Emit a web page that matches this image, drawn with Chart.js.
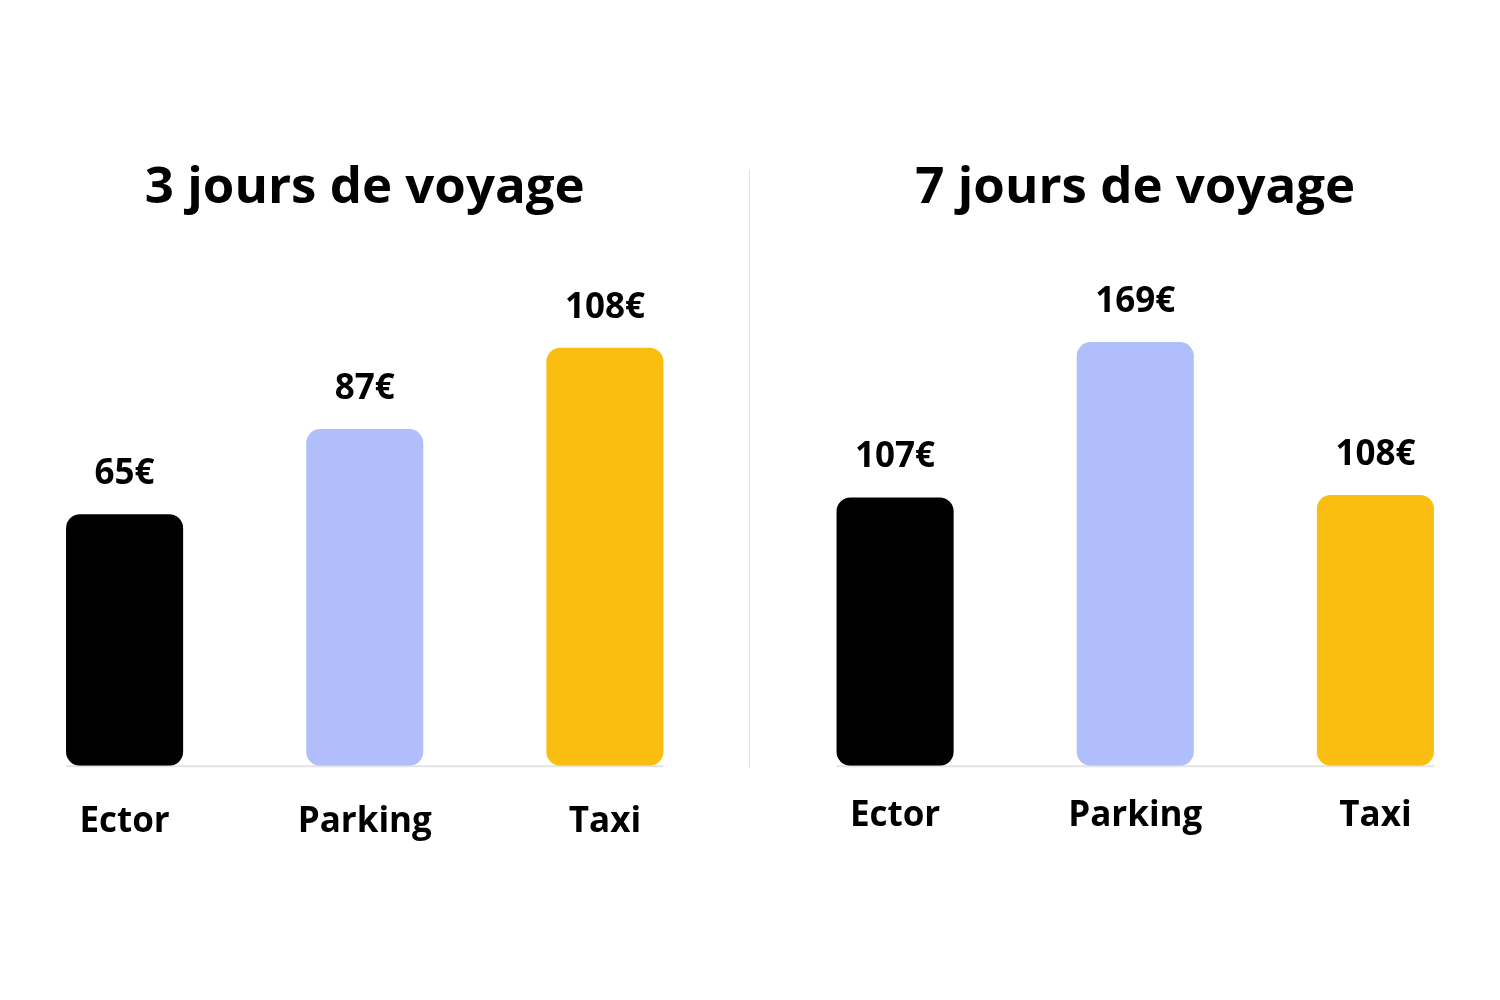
<!DOCTYPE html>
<html><head><meta charset="utf-8">
<script src="https://cdn.jsdelivr.net/npm/chart.js@4.4.1/dist/chart.umd.min.js"></script>
<style>
html,body{margin:0;padding:0;background:#fff;}
#wrap{position:relative;width:1500px;height:1000px;overflow:hidden;}
.c{position:absolute;top:0;width:750px;height:1000px;}
#divider{position:absolute;left:749px;top:170px;width:1px;height:598px;background:#e2e2e2;}
</style></head><body>
<div id="wrap">
<div class="c" style="left:0"><canvas id="c1" width="750" height="1000"></canvas></div>
<div id="divider"></div>
<div class="c" style="left:750px"><canvas id="c2" width="750" height="1000"></canvas></div>
</div>
<script>
const categories = ['Ector', 'Parking', 'Taxi'];
const titleLeft = '3 jours de voyage';
const titleRight = '7 jours de voyage';
const valuesLeft = [65, 87, 108];
const valuesRight = [107, 169, 108];
const currency = '€';
const barColors = ['#000000', '#B0BFFB', '#F9BE0F'];

Chart.defaults.font.family = "'Open Sans', sans-serif";
Chart.defaults.color = '#000';

const valueLabels = {
  id: 'valueLabels',
  afterDatasetsDraw(chart) {
    const ctx = chart.ctx;
    const meta = chart.getDatasetMeta(0);
    const data = chart.data.datasets[0].data;
    ctx.save();
    ctx.font = "700 35px 'Open Sans', sans-serif";
    ctx.fillStyle = '#000';
    ctx.textAlign = 'center';
    ctx.textBaseline = 'middle';
    meta.data.forEach((bar, i) => {
      ctx.fillText(data[i] + currency, bar.x, bar.y - 40);
    });
    ctx.restore();
  }
};

const baseLine = {
  id: 'baseLine',
  beforeDatasetsDraw(chart) {
    const ctx = chart.ctx;
    const meta = chart.getDatasetMeta(0);
    const first = meta.data[0], last = meta.data[meta.data.length - 1];
    const y = chart.scales.y.getPixelForValue(0) + 0.5;
    ctx.save();
    ctx.strokeStyle = '#e3e3e3';
    ctx.lineWidth = 2;
    ctx.beginPath();
    ctx.moveTo(first.x - first.width / 2, y);
    ctx.lineTo(last.x + last.width / 2, y);
    ctx.stroke();
    ctx.restore();
  }
};

function makeChart(id, title, values, yMax, padding, tickPad) {
  return new Chart(document.getElementById(id), {
    type: 'bar',
    data: {
      labels: categories,
      datasets: [{
        data: values,
        backgroundColor: barColors,
        borderRadius: 14,
        borderSkipped: false,
        barPercentage: 0.4875,
        categoryPercentage: 1
      }]
    },
    options: {
      responsive: false,
      animation: false,
      devicePixelRatio: 1,
      layout: { padding: padding },
      plugins: {
        legend: { display: false },
        tooltip: { enabled: false },
        title: {
          display: true,
          text: title,
          color: '#000',
          font: { size: 51, weight: '700' },
          padding: { top: 158, bottom: 30.6 }
        }
      },
      scales: {
        y: { display: false, min: 0, max: yMax },
        x: {
          grid: { display: false, drawTicks: false },
          border: { display: false },
          ticks: {
            color: '#000',
            font: { size: 35, weight: '700' },
            padding: tickPad,
            autoSkip: false,
            maxRotation: 0
          }
        }
      }
    },
    plugins: [baseLine, valueLabels]
  });
}

function draw() {
  makeChart('c1', titleLeft, valuesLeft, 133.3, { left: 4.5, right: 25, top: 0, bottom: 121.4 }, 35.4);
  makeChart('c2', titleRight, valuesRight, 205.8, { left: 25, right: 4.5, top: 0, bottom: 133.4 }, 29.4);
}
if (document.fonts && document.fonts.load) {
  Promise.all([
    document.fonts.load("700 51px 'Open Sans'"),
    document.fonts.load("700 35px 'Open Sans'")
  ]).then(draw, draw);
} else { draw(); }
</script>
</body></html>
